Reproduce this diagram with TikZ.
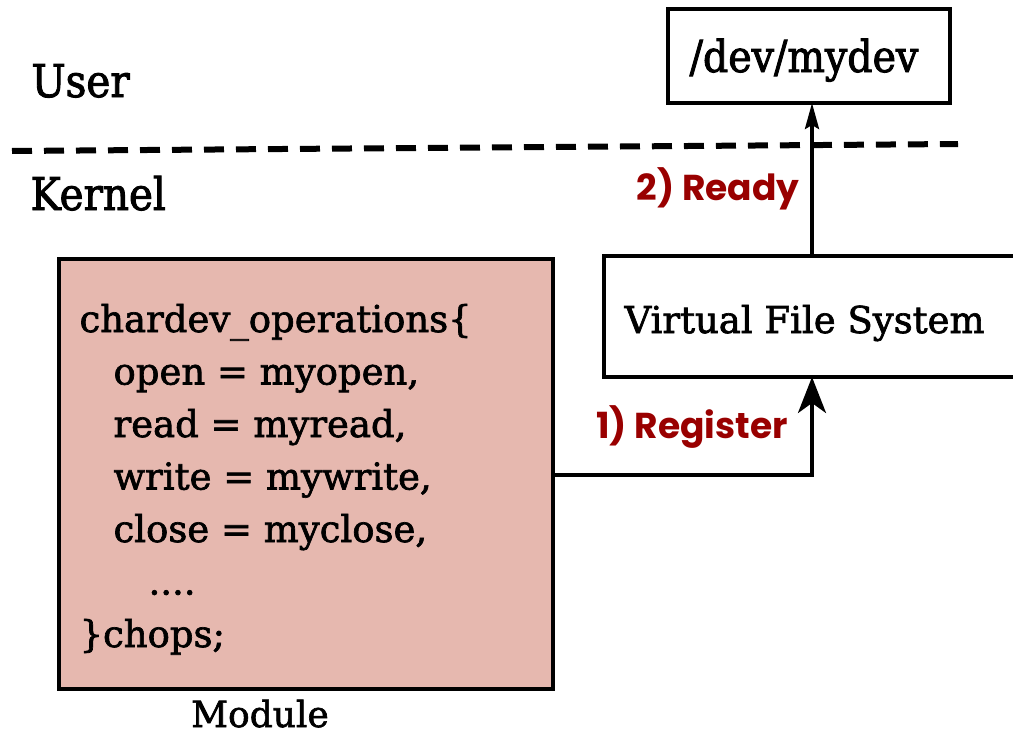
\documentclass[tikz,border=0pt]{standalone}
\usepackage{fontspec}
\setmainfont{DejaVu Serif}[FakeBold=1.8]
\newfontfamily\narrowfont{DejaVu Serif Condensed}[FakeBold=2]
\newfontfamily\labelfont{Poppins}
\usetikzlibrary{arrows.meta}
\definecolor{modfill}{HTML}{E6B8AF}
\definecolor{steplabel}{HTML}{990000}
\tikzset{
  box/.style={draw=black, line width=4.5pt, inner sep=0pt},
  conn/.style={draw=black, line width=3.6pt},
  bigtip/.style={-{Stealth[length=36pt,width=28pt,inset=10pt]}},
  slimtip/.style={-{Stealth[length=26pt,width=14pt,inset=4pt]}},
  sidetext/.style={font=\narrowfont\fontsize{45}{50}\selectfont, anchor=base west},
  steptext/.style={font=\labelfont\bfseries\fontsize{36}{40}\selectfont, text=steplabel, anchor=base},
  codeline/.style={font=\fontsize{37}{42}\selectfont, anchor=base west},
}
\begin{document}
\begin{tikzpicture}[x=1pt,y=-1pt]
  \useasboundingbox (0,0) rectangle (1013,736);
  \clip (0,0) rectangle (1013,736);

  % user / kernel boundary
  \draw[line width=6pt, dash pattern=on 20pt off 12pt] (12,151) -- (958,144);
  \node[sidetext] (user) at (28,97) {User};
  \node[sidetext] (kernel) at (27,210) {Kernel};

  % device node
  \draw[box, fill=white] (668,9) rectangle (950,103);
  \coordinate (devbot) at (812,103);
  \node[font=\narrowfont\fontsize{44}{50}\selectfont, anchor=base] (dev) at (804,72) {/dev/mydev};

  % virtual file system
  \draw[box, fill=white] (604,256) rectangle (1030,377);
  \coordinate (vfsbot) at (812,377);
  \coordinate (vfstop) at (812,256);
  \node[font=\fontsize{37}{42}\selectfont, anchor=base west] (vfs) at (621,333) {Virtual File System};

  % module
  \draw[box, fill=modfill] (59,259) rectangle (553,689);
  \coordinate (modright) at (553,475);
  \node[codeline] (l1) at (76,332) {chardev\_operations\{};
  \node[codeline] (l2) at (110,384.5) {open = myopen,};
  \node[codeline] (l3) at (110,437) {read = myread,};
  \node[codeline] (l4) at (110,489.5) {write = mywrite,};
  \node[codeline] (l5) at (110,542) {close = myclose,};
  \node[codeline] (l6) at (145,594.5) {....};
  \node[codeline] (l7) at (76,647) {\}chops;};
  \node[font=\fontsize{36}{42}\selectfont, anchor=base] (modname) at (260,727) {Module};

  % connectors
  \draw[conn, bigtip] (modright) -- (812,475) -- (vfsbot);
  \draw[conn, slimtip] (vfstop) -- (devbot);
  \node[steptext] (reg) at (692,438) {1) Register};
  \node[steptext] (ready) at (718,200) {2) Ready};
\end{tikzpicture}
\end{document}
